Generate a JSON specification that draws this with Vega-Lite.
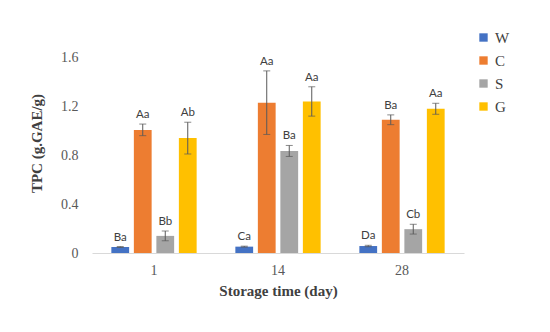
{
  "$schema": "https://vega.github.io/schema/vega-lite/v6.json",
  "width": 372,
  "height": 220,
  "autosize": {"type": "none"},
  "padding": {"left": 92, "top": 33, "right": 86, "bottom": 79},
  "background": "white",
  "data": {
    "values": [
      {"day": "1", "group": "W", "value": 0.049, "lo": 0.045, "hi": 0.053, "label": "Ba"},
      {"day": "1", "group": "C", "value": 1.006, "lo": 0.96, "hi": 1.055, "label": "Aa"},
      {"day": "1", "group": "S", "value": 0.14, "lo": 0.10, "hi": 0.18, "label": "Bb"},
      {"day": "1", "group": "G", "value": 0.94, "lo": 0.81, "hi": 1.07, "label": "Ab"},
      {"day": "14", "group": "W", "value": 0.052, "lo": 0.048, "hi": 0.056, "label": "Ca"},
      {"day": "14", "group": "C", "value": 1.23, "lo": 0.97, "hi": 1.49, "label": "Aa"},
      {"day": "14", "group": "S", "value": 0.835, "lo": 0.79, "hi": 0.88, "label": "Ba"},
      {"day": "14", "group": "G", "value": 1.24, "lo": 1.12, "hi": 1.36, "label": "Aa"},
      {"day": "28", "group": "W", "value": 0.057, "lo": 0.051, "hi": 0.063, "label": "Da"},
      {"day": "28", "group": "C", "value": 1.09, "lo": 1.05, "hi": 1.13, "label": "Ba"},
      {"day": "28", "group": "S", "value": 0.195, "lo": 0.155, "hi": 0.235, "label": "Cb"},
      {"day": "28", "group": "G", "value": 1.18, "lo": 1.135, "hi": 1.225, "label": "Aa"}
    ]
  },
  "encoding": {
    "x": {
      "field": "day", "type": "nominal", "sort": ["1", "14", "28"],
      "scale": {"paddingInner": 0, "paddingOuter": 0},
      "axis": {
        "title": "Storage time (day)", "labelAngle": 0, "ticks": false,
        "domainColor": "#d9d9d9", "labelFont": "Liberation Serif", "labelFontSize": 14,
        "labelColor": "#595959", "labelPadding": 10,
        "titleFont": "Liberation Serif", "titleFontSize": 15, "titleFontWeight": "bold",
        "titleColor": "#404040", "titlePadding": 6
      }
    },
    "xOffset": {
      "field": "group", "type": "nominal", "sort": ["W", "C", "S", "G"],
      "scale": {"paddingInner": 0.21, "paddingOuter": 0.86}
    }
  },
  "layer": [
    {
      "mark": {"type": "bar"},
      "encoding": {
        "y": {
          "field": "value", "type": "quantitative",
          "scale": {"domain": [0, 1.8], "nice": false},
          "axis": {
            "title": "TPC (g.GAE/g)", "values": [0, 0.4, 0.8, 1.2, 1.6], "format": ".1~f",
            "ticks": false, "domain": false, "grid": false,
            "labelFont": "Liberation Serif", "labelFontSize": 14, "labelColor": "#595959",
            "labelPadding": 14,
            "titleFont": "Liberation Serif", "titleFontSize": 15, "titleFontWeight": "bold",
            "titleColor": "#404040", "titlePadding": 16
          }
        },
        "color": {
          "field": "group", "type": "nominal", "sort": ["W", "C", "S", "G"],
          "scale": {"domain": ["W", "C", "S", "G"], "range": ["#4472C4", "#ED7D31", "#A5A5A5", "#FFC000"]},
          "legend": {
            "title": null, "orient": "none", "legendX": 384, "legendY": -3,
            "symbolType": "square", "symbolSize": 70, "symbolStrokeWidth": 0,
            "labelFont": "Liberation Serif", "labelFontSize": 15, "labelColor": "#404040",
            "rowPadding": 7, "labelOffset": 4
          }
        }
      }
    },
    {
      "mark": {"type": "rule", "color": "#595959", "strokeWidth": 1},
      "encoding": {
        "y": {"field": "lo", "type": "quantitative"},
        "y2": {"field": "hi"}
      }
    },
    {
      "mark": {"type": "tick", "color": "#595959", "size": 7, "thickness": 1},
      "encoding": {"y": {"field": "lo", "type": "quantitative"}}
    },
    {
      "mark": {"type": "tick", "color": "#595959", "size": 7, "thickness": 1},
      "encoding": {"y": {"field": "hi", "type": "quantitative"}}
    },
    {
      "mark": {"type": "text", "baseline": "bottom", "dy": -4, "font": "Lato", "fontSize": 11.5, "color": "#404040"},
      "encoding": {
        "y": {"field": "hi", "type": "quantitative"},
        "text": {"field": "label"}
      }
    }
  ],
  "config": {"view": {"stroke": null}}
}
